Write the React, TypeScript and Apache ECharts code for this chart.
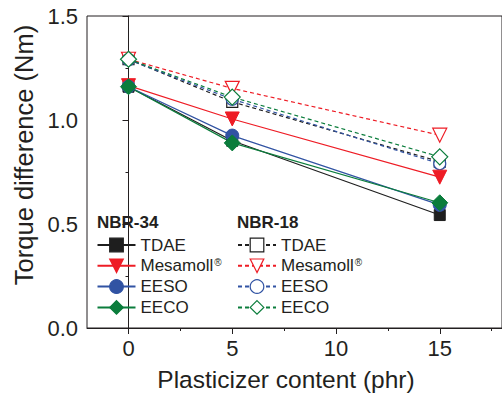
import React, { useEffect, useRef } from "react";
import * as echarts from "echarts";

// ---- data ----
const xValues = [0, 5, 15];
const xTickLabels = [0, 5, 10, 15];
const xMinorTicks = [2.5, 7.5, 12.5, 17.5];

const nbr34TDAE = [1.16, 0.9, 0.543];
const nbr34Mesamoll = [1.165, 1.005, 0.725];
const nbr34EESO = [1.16, 0.925, 0.592];
const nbr34EECO = [1.16, 0.89, 0.602];

const nbr18TDAE = [1.292, 1.087, 0.8];
const nbr18Mesamoll = [1.292, 1.152, 0.927];
const nbr18EESO = [1.29, 1.1, 0.79];
const nbr18EECO = [1.292, 1.11, 0.823];

const legendLabels: Record<string, string> = {
  "TDAE-34": "TDAE",
  "Mesamoll-34": "{t|Mesamoll}{sup|®}",
  "EESO-34": "EESO",
  "EECO-34": "EECO",
  "TDAE-18": "TDAE",
  "Mesamoll-18": "{t|Mesamoll}{sup|®}",
  "EESO-18": "EESO",
  "EECO-18": "EECO",
};

const BLACK = "#1e1e1e";
const RED = "#ee1c25";
const BLUE = "#3153a3";
const GREEN = "#0b7d3c";
const TEXT = "#231f20";
const FONT = '"Liberation Sans", Arial, sans-serif';

const pts = (arr: number[]) => xValues.map((x, i) => [x, arr[i]]);

function solid(name: string, arr: number[], color: string, symbol: string, size: number, rotate = 0) {
  return {
    name,
    type: "line",
    data: pts(arr),
    symbol,
    symbolSize: size,
    symbolRotate: rotate,
    lineStyle: { color, width: 1.2, type: "solid" },
    itemStyle: { color, borderColor: color, borderWidth: 1 },
    z: 3,
  };
}

function hollow(name: string, arr: number[], color: string, symbol: string, size: number, rotate = 0) {
  return {
    name,
    type: "line",
    data: pts(arr),
    symbol,
    symbolSize: size,
    symbolRotate: rotate,
    lineStyle: { color, width: 1.2, type: [4, 3] },
    itemStyle: { color: "#ffffff", borderColor: color, borderWidth: 1.2 },
    z: 2,
  };
}

export default function App() {
  const ref = useRef<HTMLDivElement>(null);
  useEffect(() => {
    if (!ref.current) return;
    const chart = echarts.init(ref.current, null, { renderer: "svg" });
    const legendCommon = {
      orient: "vertical",
      padding: 0,
      itemWidth: 38,
      itemHeight: 17,
      itemGap: 3.8,
      selectedMode: false,
      itemStyle: { borderWidth: 1.2 },
      formatter: (n: string) => legendLabels[n] ?? n,
      textStyle: {
        fontFamily: FONT,
        fontSize: 17,
        color: TEXT,
        rich: {
          t: { fontFamily: FONT, fontSize: 17, color: TEXT },
          sup: { fontFamily: FONT, fontSize: 10, color: TEXT, verticalAlign: "top", padding: [0, 0, 0, 1] },
        },
      },
    };
    chart.setOption({
      animation: false,
      backgroundColor: "#ffffff",
      grid: {
        left: 87,
        top: 16,
        width: 422,
        height: 312,
        show: true,
        borderColor: TEXT,
        borderWidth: 1,
        backgroundColor: "transparent",
      },
      xAxis: [
        {
          type: "value",
          position: "bottom",
          min: -2,
          max: 18,
          axisLine: { lineStyle: { color: TEXT, width: 1 } },
          axisTick: { show: true, length: 6, inside: false, customValues: xTickLabels, lineStyle: { color: TEXT } },
          axisLabel: {
            customValues: xTickLabels,
            margin: 9,
            fontFamily: FONT,
            fontSize: 22,
            color: TEXT,
          },
          splitLine: { show: false },
        },
        {
          type: "value",
          position: "bottom",
          min: -2,
          max: 18,
          axisLine: { show: false },
          axisTick: { show: true, length: 3, inside: false, customValues: xMinorTicks, lineStyle: { color: TEXT } },
          axisLabel: { show: false },
          splitLine: { show: false },
        },
      ],
      yAxis: {
        type: "value",
        min: 0,
        max: 1.5,
        interval: 0.5,
        axisLine: { show: true, lineStyle: { color: TEXT, width: 1 } },
        axisTick: { show: true, length: 6, lineStyle: { color: TEXT } },
        minorTick: { show: true, splitNumber: 2, length: 3, lineStyle: { color: TEXT } },
        axisLabel: {
          margin: 9,
          fontFamily: FONT,
          fontSize: 22,
          color: TEXT,
          formatter: (v: number) => v.toFixed(1),
        },
        splitLine: { show: false },
      },
      legend: [
        {
          ...legendCommon,
          left: 96.5,
          top: 236.5,
          data: ["TDAE-34", "Mesamoll-34", "EESO-34", "EECO-34"],
        },
        {
          ...legendCommon,
          left: 237,
          top: 236.5,
          data: ["TDAE-18", "Mesamoll-18", "EESO-18", "EECO-18"],
        },
      ],
      graphic: [
        {
          type: "text",
          x: 97,
          y: 222,
          style: { text: "NBR-34", font: `bold 17px ${FONT}`, fill: TEXT, textVerticalAlign: "middle" },
        },
        {
          type: "text",
          x: 237,
          y: 222,
          style: { text: "NBR-18", font: `bold 17px ${FONT}`, fill: TEXT, textVerticalAlign: "middle" },
        },
        {
          type: "text",
          x: 24,
          y: 155,
          rotation: Math.PI / 2,
          style: {
            text: "Torque difference (Nm)",
            font: `25.5px ${FONT}`,
            fill: TEXT,
            textAlign: "center",
            textVerticalAlign: "middle",
          },
        },
        {
          type: "text",
          x: 286,
          y: 379,
          style: {
            text: "Plasticizer content (phr)",
            font: `24.5px ${FONT}`,
            fill: TEXT,
            textAlign: "center",
            textVerticalAlign: "middle",
          },
        },
      ],
      series: [
        hollow("TDAE-18", nbr18TDAE, BLACK, "rect", 11),
        hollow("Mesamoll-18", nbr18Mesamoll, RED, "triangle", 14, 180),
        hollow("EESO-18", nbr18EESO, BLUE, "circle", 12),
        hollow("EECO-18", nbr18EECO, GREEN, "diamond", 16),
        solid("TDAE-34", nbr34TDAE, BLACK, "rect", 11),
        solid("Mesamoll-34", nbr34Mesamoll, RED, "triangle", 14, 180),
        solid("EESO-34", nbr34EESO, BLUE, "circle", 13),
        solid("EECO-34", nbr34EECO, GREEN, "diamond", 16),
      ],
    });
    return () => chart.dispose();
  }, []);
  return <div ref={ref} style={{ width: 502, height: 396, position: "absolute", left: 0, top: 0 }} />;
}
